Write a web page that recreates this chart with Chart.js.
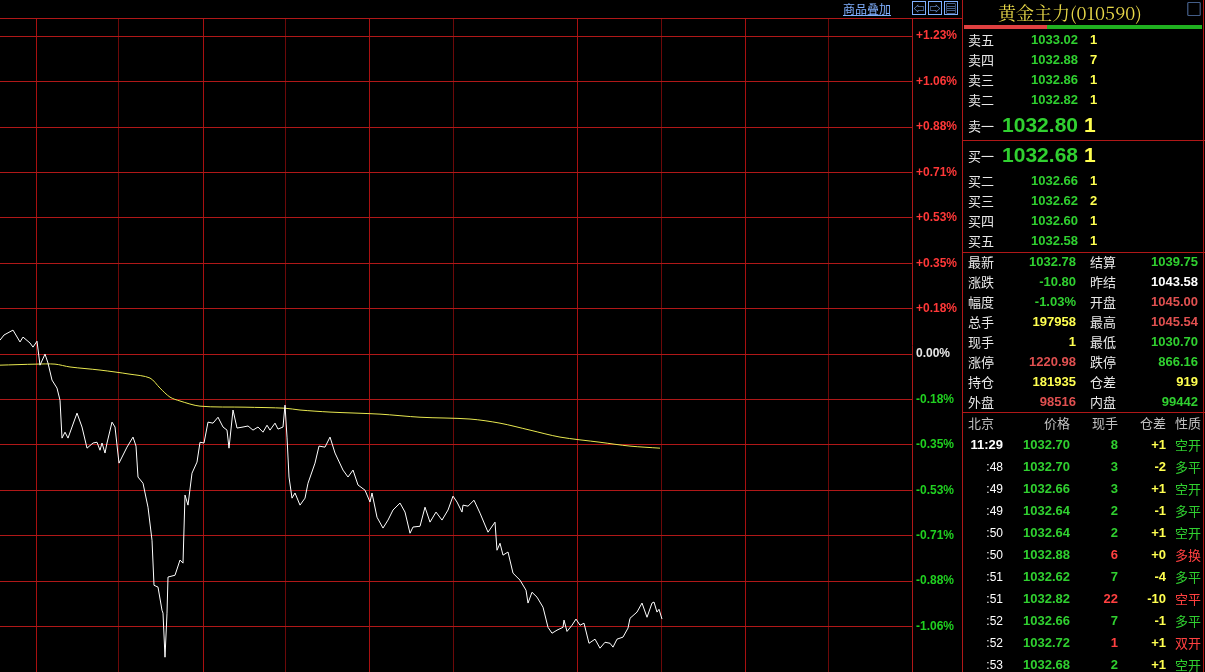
<!DOCTYPE html>
<html><head><meta charset="utf-8">
<script src="https://cdn.jsdelivr.net/npm/chart.js@4/dist/chart.umd.min.js"></script>
<style>
html,body{margin:0;padding:0;background:#000;width:1205px;height:672px;overflow:hidden;font-family:"Liberation Sans","Noto Sans CJK SC",sans-serif;}
#wrap{position:absolute;left:0;top:0;width:962px;height:672px;}
.t{position:absolute;white-space:nowrap;font-size:13px;line-height:16px;}
.n{font-weight:bold;}
.cn{font-family:"Noto Sans CJK SC",sans-serif;color:#e8e8e8;font-size:13px;font-weight:normal;}
.line{position:absolute;background:#b01818;}
</style></head><body>
<div id="wrap"><canvas id="c" width="962" height="672" style="width:962px;height:672px"></canvas></div>
<div id="panel"></div>
<script>
// ---- chart data (percent change vs 昨结 1043.58) ----
const minuteIdx = [0,4,13,20,23,30,33,37,40,45,48,52,57,60,62,65,68,77,82,87,93,97,100,102,105,107,112,115,119,127,133,136,138,143,148,152,154,158,162,163,165,167,168,175,180,183,185,188,192,197,200,204,208,213,218,223,227,229,233,237,243,248,253,258,263,267,270,275,278,283,285,287,289,292,295,300,305,308,315,319,325,330,335,343,348,353,358,365,370,372,377,383,388,393,400,405,410,413,420,425,430,436,442,448,453,457,462,463,468,474,480,488,495,497,500,503,508,513,520,526,528,532,537,543,548,552,557,563,564,567,572,576,580,584,589,595,600,605,610,613,617,623,628,630,637,642,647,652,654,657,659,662];
const pricePct = [0.054,0.074,0.093,0.047,0.066,0.043,0.027,0.050,-0.043,0,-0.035,-0.101,-0.132,-0.179,-0.326,-0.303,-0.326,-0.229,-0.283,-0.365,-0.345,-0.342,-0.373,-0.345,-0.384,-0.345,-0.264,-0.283,-0.423,-0.361,-0.322,-0.357,-0.477,-0.501,-0.594,-0.722,-0.897,-0.904,-0.994,-1.005,-1.176,-1.005,-0.865,-0.858,-0.799,-0.811,-0.547,-0.586,-0.462,-0.419,-0.342,-0.345,-0.264,-0.268,-0.245,-0.283,-0.295,-0.365,-0.217,-0.287,-0.283,-0.279,-0.295,-0.283,-0.303,-0.276,-0.295,-0.268,-0.291,-0.283,-0.198,-0.322,-0.477,-0.559,-0.539,-0.586,-0.559,-0.501,-0.423,-0.357,-0.361,-0.322,-0.384,-0.450,-0.477,-0.450,-0.508,-0.528,-0.574,-0.539,-0.633,-0.675,-0.644,-0.605,-0.578,-0.613,-0.695,-0.671,-0.668,-0.594,-0.652,-0.613,-0.644,-0.605,-0.551,-0.574,-0.613,-0.586,-0.590,-0.567,-0.617,-0.691,-0.652,-0.761,-0.734,-0.780,-0.768,-0.850,-0.877,-0.916,-0.966,-0.924,-0.943,-0.982,-1.060,-1.083,-1.071,-1.060,-1.032,-1.076,-1.052,-1.028,-1.052,-1.044,-1.122,-1.106,-1.141,-1.118,-1.122,-1.137,-1.106,-1.098,-1.063,-1.025,-1.001,-0.966,-1.021,-0.966,-0.962,-1.001,-0.990,-1.028];
const avgIdx = [0,36,55,70,100,130,150,160,170,180,200,245,285,300,330,380,420,470,500,530,560,600,630,660];
const avgPct = [-0.043,-0.039,-0.039,-0.050,-0.062,-0.078,-0.093,-0.132,-0.167,-0.182,-0.202,-0.206,-0.210,-0.217,-0.225,-0.233,-0.245,-0.252,-0.268,-0.295,-0.322,-0.342,-0.357,-0.365];
const yTickLabels = ['-1.06%','-0.88%','-0.71%','-0.53%','-0.35%','-0.18%','0.00%','+0.18%','+0.35%','+0.53%','+0.71%','+0.88%','+1.06%','+1.23%'];
const yTickStep = 0.1762;
const xGridIdx = [36,118,203,285,369,453,577,661,745,828];
const xGridDotted = [false,true,false,true,false,true,false,true,false,true];

const yTickVals = yTickLabels.map((l,i)=>(i-6)*yTickStep);
const labelMap = {}; yTickVals.forEach((v,i)=>labelMap[v.toFixed(4)]=yTickLabels[i]);
const Y_MIN=-7*yTickStep, Y_MAX=7.4*yTickStep;

try{
new Chart(document.getElementById('c'),{
  type:'line',
  data:{datasets:[
    {data:minuteIdx.map((x,i)=>({x,y:pricePct[i]})),borderColor:'#ffffff',borderWidth:1,pointRadius:0,tension:0},
    {data:avgIdx.map((x,i)=>({x,y:avgPct[i]})),borderColor:'#e8e850',borderWidth:1,pointRadius:0,tension:0.3}
  ]},
  options:{
    responsive:false,animation:false,devicePixelRatio:1,
    layout:{padding:{top:18,left:0,right:0,bottom:0}},
    plugins:{legend:{display:false},tooltip:{enabled:false}},
    scales:{
      x:{type:'linear',min:0,max:912,display:true,
        afterBuildTicks:s=>{s.ticks=xGridIdx.map(v=>({value:v}));},
        afterFit:s=>{s.height=0;s.paddingLeft=0;s.paddingRight=0;},
        ticks:{display:false,padding:0},
        grid:{color:c=>xGridDotted[c.index]?'rgba(120,10,10,0.9)':'#a81010',lineWidth:1,drawTicks:false},
        border:{display:false}
      },
      y:{type:'linear',position:'right',min:Y_MIN,max:Y_MAX,
        afterBuildTicks:s=>{s.ticks=yTickVals.concat([Y_MAX]).map(v=>({value:v}));},
        afterFit:s=>{s.width=50;s.paddingTop=0;s.paddingBottom=0;},
        ticks:{padding:4,font:{family:'"Liberation Sans",sans-serif',size:12,weight:'bold'},
          color:c=>{const v=c.tick.value;return Math.abs(v)<1e-6?'#e8e8e8':(v>0?'#ff3838':'#20d020');},
          callback:v=>labelMap[v.toFixed(4)]||''},
        grid:{color:'#b01818',lineWidth:1,drawTicks:false},
        border:{display:true,color:'#b01818'}
      }
    }
  }
});
}catch(e){console.error(e);}
</script>
<script>
// ---- right panel data ----
const askLabels=['卖五','卖四','卖三','卖二','卖一'];
const askPrices=['1033.02','1032.88','1032.86','1032.82','1032.80'];
const askVols=['1','7','1','1','1'];
const bidLabels=['买一','买二','买三','买四','买五'];
const bidPrices=['1032.68','1032.66','1032.62','1032.60','1032.58'];
const bidVols=['1','1','2','1','1'];
const statL=['最新','涨跌','幅度','总手','现手','涨停','持仓','外盘'];
const statLV=['1032.78','-10.80','-1.03%','197958','1','1220.98','181935','98516'];
const statLC=['#30d030','#30d030','#30d030','#ffff50','#ffff50','#e05050','#ffff50','#e05050'];
const statR=['结算','昨结','开盘','最高','最低','跌停','仓差','内盘'];
const statRV=['1039.75','1043.58','1045.00','1045.54','1030.70','866.16','919','99442'];
const statRC=['#30d030','#ffffff','#e05050','#e05050','#30d030','#30d030','#ffff50','#30d030'];
const tickTimes=['11:29',':48',':49',':49',':50',':50',':51',':51',':52',':52',':53'];
const tickPrices=['1032.70','1032.70','1032.66','1032.64','1032.64','1032.88','1032.62','1032.82','1032.66','1032.72','1032.68'];
const tickVols=['8','3','3','2','2','6','7','22','7','1','2'];
const tickOI=['+1','-2','+1','-1','+1','+0','-4','-10','-1','+1','+1'];
const tickType=['空开','多平','空开','多平','空开','多换','多平','空平','多平','双开','空开'];
const tickRed=[false,false,false,false,false,true,false,true,false,true,false];

const P=document.getElementById('panel');
function add(txt,x,y,css,cls){const d=document.createElement('div');d.className='t '+(cls||'n');d.textContent=txt;
  d.style.cssText+=';top:'+y+'px;'+css;if(x!==null)d.style.left=x+'px';P.appendChild(d);return d;}
function R(txt,rx,y,css,cls){return add(txt,null,y,'right:'+(1205-rx)+'px;'+css,cls);}
function line(x,y,w,h,c){const d=document.createElement('div');d.className='line';d.style.cssText='left:'+x+'px;top:'+y+'px;width:'+w+'px;height:'+h+'px;'+(c?'background:'+c:'');P.appendChild(d);}
line(0,18,962,1);line(962,0,1,672);line(963,140,242,1);line(963,252,242,1);line(963,412,242,1);line(1203,0,1,672);
line(964,25,83,4,'#e04040');line(1047,25,155,4,'#20b020');
add('商品叠加',843,1,'color:#80b0ff;font-size:12px;text-decoration:underline;','cn');
['⇦','⇨','▤'].forEach((s,i)=>{add(s,912+i*16,1,'color:#80b0ff;font-size:11px;border:1px solid #80b0ff;width:12px;height:12px;line-height:12px;text-align:center;','cn');});
add('黄金主力(010590)',998,1,'color:#e8d848;font-size:18px;line-height:22px;font-family:"Noto Serif CJK SC","Noto Sans CJK SC",serif;','cn');
add('□',1186,0,'color:#80b0ff;font-size:16px;','cn');
const askY=[32,52,72,92,116];
const BIG='font-size:21px;line-height:24px;';
askLabels.forEach((l,i)=>{const big=i===4;
  add(l,968,askY[i]+(big?2:0),'','cn');
  R(askPrices[i],1078,askY[i]+(big?-3:0),'color:#30d030;'+(big?BIG:''));
  add(askVols[i],big?1084:1090,askY[i]+(big?-3:0),'color:#ffff50;'+(big?BIG:''));});
const bidY=[146,173,193,213,233];
bidLabels.forEach((l,i)=>{const big=i===0;
  add(l,968,bidY[i]+(big?2:0),'','cn');
  R(bidPrices[i],1078,bidY[i]+(big?-3:0),'color:#30d030;'+(big?BIG:''));
  add(bidVols[i],big?1084:1090,bidY[i]+(big?-3:0),'color:#ffff50;'+(big?BIG:''));});
statL.forEach((l,i)=>{const y=254+i*20;
  add(l,968,y,'','cn');R(statLV[i],1076,y,'color:'+statLC[i]);
  add(statR[i],1090,y,'','cn');R(statRV[i],1198,y,'color:'+statRC[i]);});
const hy=415;
add('北京',968,hy,'color:#c0c0c0','cn');R('价格',1070,hy,'color:#c0c0c0','cn');R('现手',1118,hy,'color:#c0c0c0','cn');R('仓差',1166,hy,'color:#c0c0c0','cn');add('性质',1175,hy,'color:#c0c0c0','cn');
tickTimes.forEach((t,i)=>{const y=437+i*22;
  R(t,1003,y,'color:#fff;'+(i===0?'':'font-size:12px;font-weight:normal;'));
  R(tickPrices[i],1070,y,'color:#30d030;');
  R(tickVols[i],1118,y,'color:'+(tickRed[i]?'#ff4040':'#30d030')+';');
  R(tickOI[i],1166,y,'color:#ffff50;');
  add(tickType[i],1175,y,'color:'+(tickRed[i]?'#ff4040':'#30d030'),'cn');});
</script>
</body></html>
